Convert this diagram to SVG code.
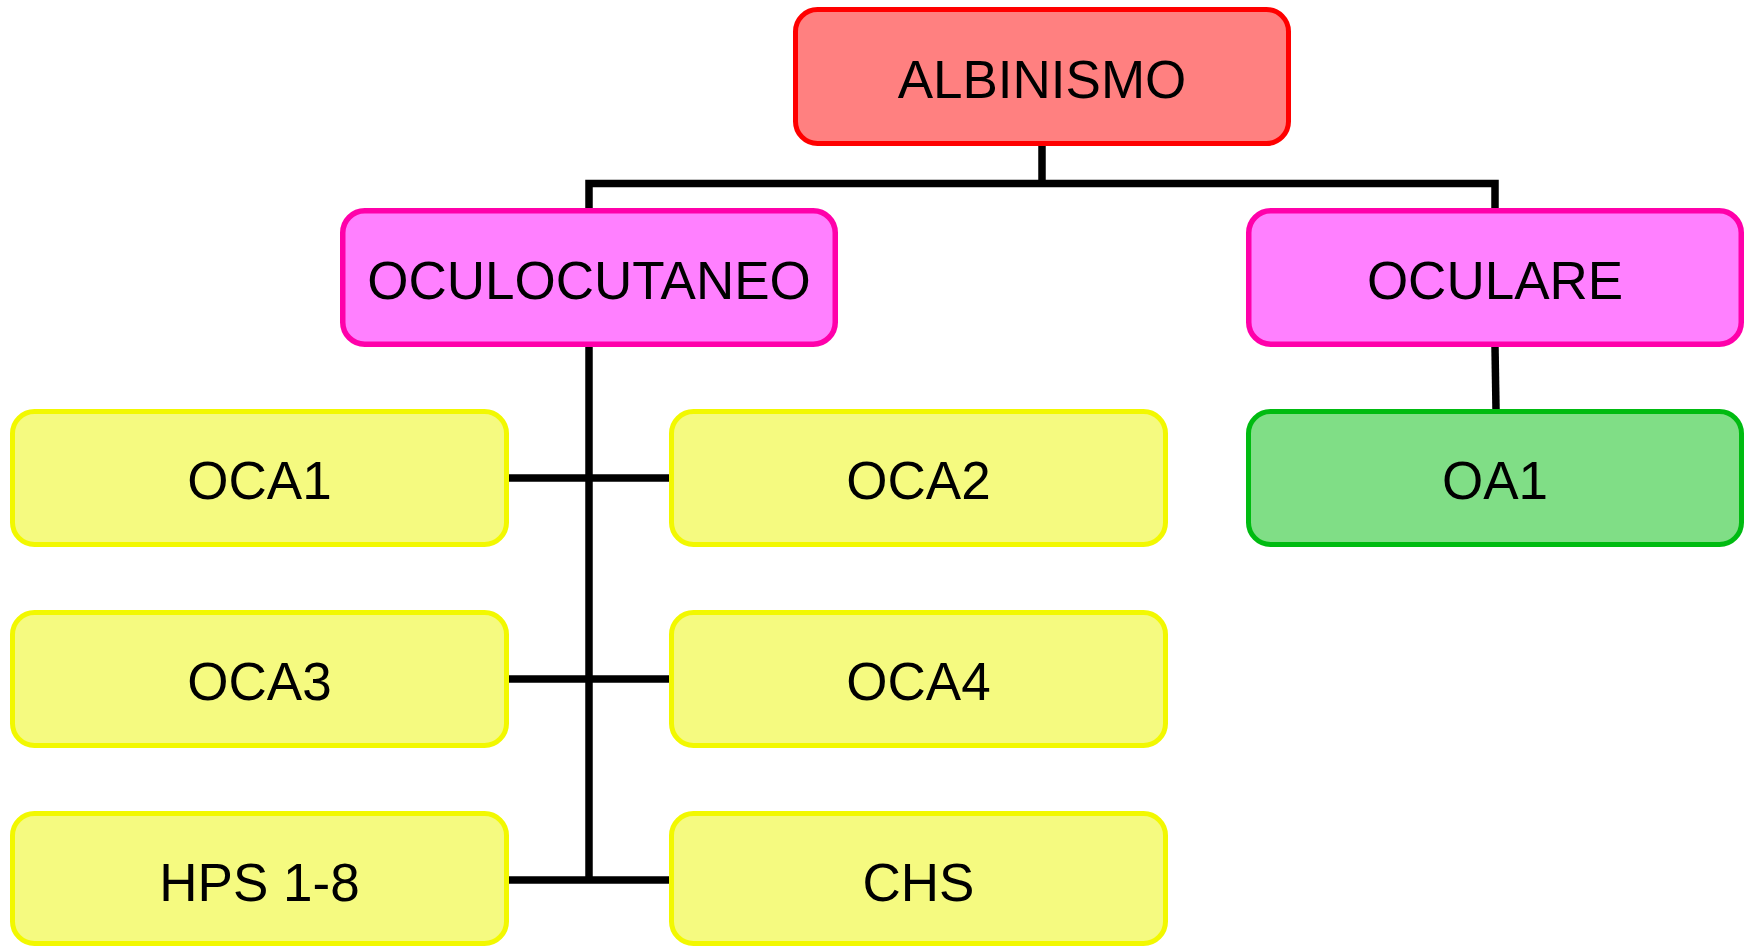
<svg xmlns="http://www.w3.org/2000/svg" width="1752" height="947" viewBox="0 0 1752 947">
<style>
.box{stroke-width:5}
.red{fill:#FF8080;stroke:#FF0000}
.pink{fill:#FF80FF;stroke:#FF00AA;stroke-width:5.5}
.yel{fill:#F5FA80;stroke:#F2F800}
.grn{fill:#80DE86;stroke:#00BB11}
text{font-family:"Liberation Sans",Arial,sans-serif;font-size:53px;fill:#000;text-anchor:middle}
.conn{fill:none;stroke:#000;stroke-width:7.5;stroke-linejoin:miter;stroke-linecap:butt}
</style>
<rect width="1752" height="947" fill="#fff"/>
<g id="connectors" class="conn">
<path d="M1042,146 V183.5"/>
<path d="M589,208 V183.5 H1495 V208"/>
<path d="M589,347 V880"/>
<path d="M509,478 H669"/>
<path d="M509,679 H669"/>
<path d="M509,880 H669"/>
<path d="M1495,347 L1496,409"/>
</g>
<g id="albinismo"><rect class="box red" x="795.5" y="9.5" width="493" height="134" rx="22"/><text x="1042" y="98">ALBINISMO</text></g>
<g id="oculocutaneo"><rect class="box pink" x="342.75" y="210.75" width="492.5" height="133.5" rx="22"/><text x="589" y="299">OCULOCUTANEO</text></g>
<g id="oculare"><rect class="box pink" x="1248.75" y="210.75" width="492.5" height="133.5" rx="22"/><text x="1495" y="299">OCULARE</text></g>
<g id="oa1"><rect class="box grn" x="1248.5" y="411.5" width="493" height="133" rx="22"/><text x="1495" y="499">OA1</text></g>
<g id="oca1"><rect class="box yel" x="12.5" y="411.5" width="494" height="133" rx="22"/><text x="259.5" y="499">OCA1</text></g>
<g id="oca2"><rect class="box yel" x="671.5" y="411.5" width="494" height="133" rx="22"/><text x="918.5" y="499">OCA2</text></g>
<g id="oca3"><rect class="box yel" x="12.5" y="612.5" width="494" height="133" rx="22"/><text x="259.5" y="700">OCA3</text></g>
<g id="oca4"><rect class="box yel" x="671.5" y="612.5" width="494" height="133" rx="22"/><text x="918.5" y="700">OCA4</text></g>
<g id="hps"><rect class="box yel" x="12.5" y="813.5" width="494" height="130" rx="22"/><text x="259.5" y="901">HPS 1-8</text></g>
<g id="chs"><rect class="box yel" x="671.5" y="813.5" width="494" height="130" rx="22"/><text x="918.5" y="901">CHS</text></g>
</svg>
